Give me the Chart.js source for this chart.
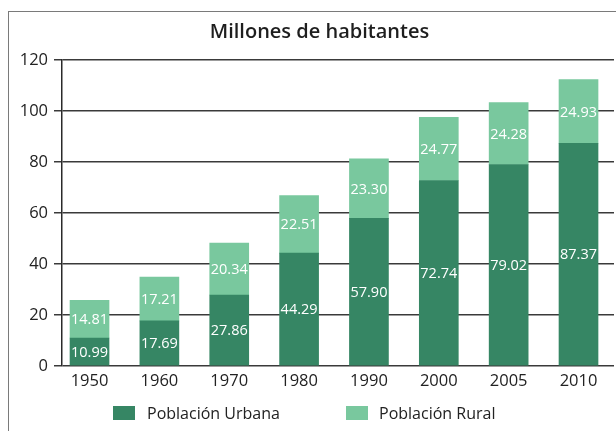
<!DOCTYPE html>
<html>
<head>
<meta charset="utf-8">
<script src="https://cdn.jsdelivr.net/npm/chart.js@4/dist/chart.umd.min.js"></script>
<style>
    body { margin: 0; background: #fff; overflow: hidden; }
    #wrap { position: relative; width: 616px; height: 431px; font-family: "Open Sans", sans-serif; }
    #frame { position: absolute; left: 8px; top: 11px; width: 700px; height: 500px; border: 1.5px solid #7a7a7a; pointer-events: none; }
    #title { position: absolute; left: 0; top: 16px; width: 639px; text-align: center; font-size: 20px; line-height: 30px; color: #1e1e1e; font-weight: 600; }
    .leg { position: absolute; top: 402px; font-size: 16px; line-height: 22px; color: #222; font-weight: 500; }
    .leg span { position: absolute; left: 0; top: 4px; width: 22px; height: 14px; }
</style>
</head>
<body>
<div id="wrap">
    <canvas id="chart" width="616" height="431"></canvas>
    <div id="frame"></div>
    <div id="title">Millones de habitantes</div>
    <div class="leg" id="legUrb" style="left:113px; padding-left:34px;"><span></span></div>
    <div class="leg" id="legRur" style="left:346px; padding-left:33px;"><span></span></div>
</div>
<script>
// datos (millones de habitantes)
const years = ['1950', '1960', '1970', '1980', '1990', '2000', '2005', '2010'];
const urbana = [10.99, 17.69, 27.86, 44.29, 57.90, 72.74, 79.02, 87.37];
const rural = [14.81, 17.21, 20.34, 22.51, 23.30, 24.77, 24.28, 24.93];
const yTicks = [0, 20, 40, 60, 80, 100, 120];

const colorUrbana = '#368664';
const colorRural = '#79c89e';
const fontName = '"Open Sans", sans-serif';

function toPoints(values) {
    return values.map((v, i) => ({x: i, y: v}))
}

// escribe el valor dentro de cada tramo de barra
const barLabels = {
    id: 'barLabels',
    afterDatasetsDraw(chart) {
        const ctx = chart.ctx;
        ctx.save();
        ctx.fillStyle = '#ffffff';
        ctx.font = '500 14.5px ' + fontName;
        ctx.textAlign = 'center';
        ctx.textBaseline = 'middle';
        chart.data.datasets.forEach((ds, di) => {
            chart.getDatasetMeta(di).data.forEach((bar, i) => {
                const y = (bar.y + bar.base) / 2;
                ctx.fillText(ds.data[i].y.toFixed(2), bar.x, y + 1);
            });
        });
        ctx.restore();
    }
};

const data = {
    datasets: [{
            label: 'Población Urbana',
            data: toPoints(urbana),
            backgroundColor: colorUrbana,
            borderWidth: 0,
            barThickness: 39
        }, {
            label: 'Población Rural',
            data: toPoints(rural),
            backgroundColor: colorRural,
            borderWidth: 0,
            barThickness: 39
        }]
};

const config = {
    type: 'bar',
    data: data,
    options: {
        responsive: false,
        animation: false,
        layout: { padding: { top: 60, right: 2, bottom: 25, left: 0 } },
        plugins: {
            legend: { display: false },
            tooltip: { enabled: false }
        },
        scales: {
            x: {
                type: 'linear',
                stacked: true,
                offset: false,
                min: -0.394,
                max: 7.508,
                grid: { display: false, drawTicks: false },
                border: { display: false },
                ticks: {
                    stepSize: 1,
                    includeBounds: false,
                    autoSkip: false,
                    maxRotation: 0,
                    padding: 5,
                    color: '#222',
                    font: { family: fontName, size: 16.5, weight: 500 },
                    callback: (v) => Number.isInteger(v) && years[v] ? years[v] : ''
                },
                afterFit: (s) => { s.height = 40; }
            },
            y: {
                stacked: true,
                min: 0,
                max: 120,
                grid: { color: '#3a3a3a', lineWidth: 1.5, tickLength: 8 },
                border: { display: true, color: '#2a2a2a', width: 1.5 },
                afterBuildTicks: (s) => { s.ticks = yTicks.map(v => ({value: v})); },
                ticks: {
                    padding: 6,
                    color: '#222',
                    font: { family: fontName, size: 16.5, weight: 500 }
                },
                afterFit: (s) => { s.width = 62; }
            }
        }
    },
    plugins: [barLabels]
};

const ctx = document.getElementById('chart').getContext('2d');
const chart = new Chart(ctx, config);

// leyenda
const legUrb = document.getElementById('legUrb');
legUrb.querySelector('span').style.background = colorUrbana;
legUrb.appendChild(document.createTextNode(data.datasets[0].label));
const legRur = document.getElementById('legRur');
legRur.querySelector('span').style.background = colorRural;
legRur.appendChild(document.createTextNode(data.datasets[1].label));
</script>
</body>
</html>
